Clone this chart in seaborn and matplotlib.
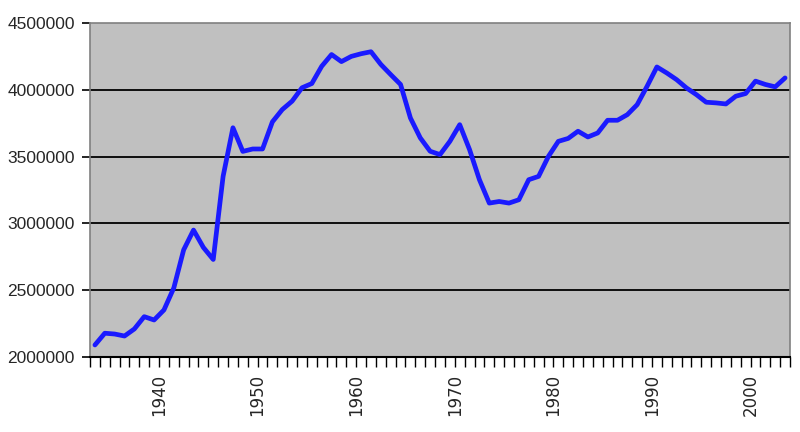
import numpy as np
import pandas as pd
import matplotlib
matplotlib.use("Agg")
import matplotlib.pyplot as plt
import seaborn as sns
from matplotlib.ticker import FixedLocator, FuncFormatter

years = list(range(1933, 2004))
births = [
    2090000, 2178000, 2172000, 2157000, 2210000, 2302000, 2277000, 2352000,
    2517000, 2802000, 2950000, 2820000, 2730000, 3352000, 3716000, 3539000,
    3557000, 3557000, 3760000, 3852000, 3915000, 4015000, 4047000, 4176000,
    4264000, 4211000, 4250000, 4270000, 4285000, 4190000, 4114000, 4040000,
    3789000, 3640000, 3540000, 3515000, 3614000, 3739000, 3552000, 3327000,
    3152000, 3164000, 3152000, 3177000, 3327000, 3352000, 3502000, 3614000,
    3636000, 3690000, 3647000, 3677000, 3772000, 3772000, 3814000, 3889000,
    4026000, 4171000, 4126000, 4076000, 4014000, 3964000, 3907000, 3902000,
    3894000, 3952000, 3972000, 4065000, 4040000, 4022000, 4089000,
]
label_years = [1940, 1950, 1960, 1970, 1980, 1990, 2000]
y_ticks = [2000000, 2500000, 3000000, 3500000, 4000000, 4500000]

df = pd.DataFrame({"year": years, "births": births})

sns.set_theme(style="white")
plt.rcParams["font.family"] = ["Liberation Sans", "DejaVu Sans"]

fig = plt.figure(figsize=(8, 4.32), dpi=100)
ax = fig.add_axes([90 / 800, (432 - 357) / 432, 700 / 800, (357 - 23) / 432])
ax.set_facecolor("#c0c0c0")

for v in y_ticks[1:-1]:
    ax.axhline(v, color="black", linewidth=1.3, zorder=1)

sns.lineplot(data=df, x="year", y="births", color="#1a1aff", linewidth=3.4,
             ax=ax, zorder=3)

ax.set_xlim(1932.5, 2003.5)
ax.set_ylim(2000000, 4500000)
ax.set_xlabel("")
ax.set_ylabel("")

ax.yaxis.set_major_locator(FixedLocator(y_ticks))
ax.yaxis.set_major_formatter(FuncFormatter(lambda v, p: f"{int(v)}"))
ax.tick_params(axis="y", length=6, width=1.2, color="black", pad=5,
               labelsize=12.5, direction="out", left=True)

ax.xaxis.set_major_locator(FixedLocator([y - 0.5 for y in label_years]))
ax.set_xticklabels([str(y) for y in label_years], rotation=90,
                   family=["DejaVu Sans"], fontsize=12)
ax.xaxis.set_minor_locator(FixedLocator([y - 0.5 for y in years] + [2003.5]))
ax.tick_params(axis="x", which="both", length=7, width=1.0, color="black",
               direction="out", bottom=True)
ax.tick_params(axis="x", which="major", pad=5)
for lbl in ax.get_xticklabels():
    lbl.set_va("top")

for side in ["top", "right", "left"]:
    ax.spines[side].set_color("#808080")
    ax.spines[side].set_linewidth(1.2)
ax.spines["bottom"].set_color("black")
ax.spines["bottom"].set_linewidth(1.5)

fig.savefig("out.png", dpi=100, facecolor="white")
